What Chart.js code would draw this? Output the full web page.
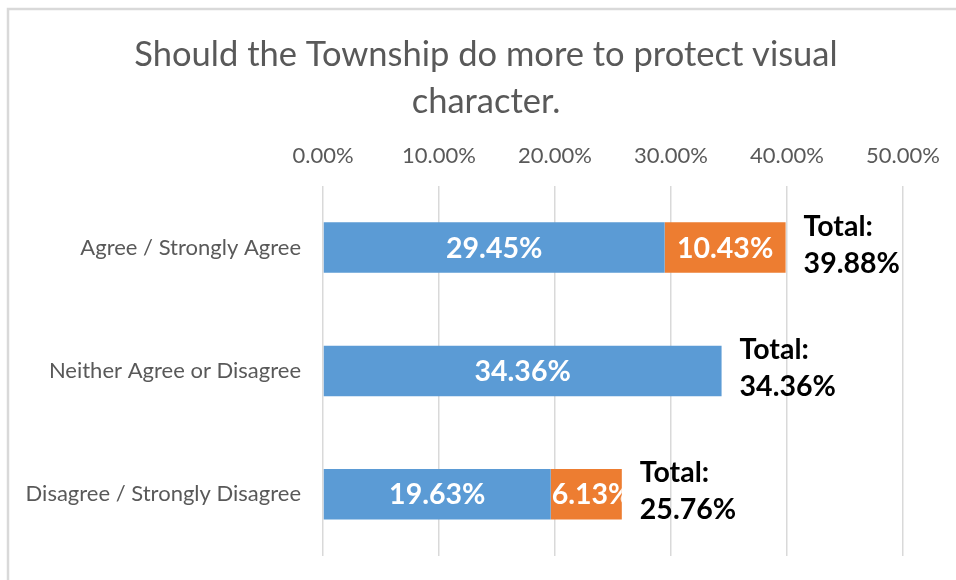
<!DOCTYPE html>
<html>
<head>
<meta charset="utf-8">
<script src="https://cdn.jsdelivr.net/npm/chart.js@4.4.1/dist/chart.umd.min.js"></script>
<style>
  html, body { margin: 0; padding: 0; background: #ffffff; }
  #wrap { position: relative; width: 956px; height: 580px; }
</style>
</head>
<body>
<div id="wrap"><canvas id="chart" width="956" height="580"></canvas></div>
<script>
// Survey answers, percent of respondents
const categories = ['Agree / Strongly Agree', 'Neither Agree or Disagree', 'Disagree / Strongly Disagree'];
const mainShare = [29.45, 34.36, 19.63];   // blue segment
const strongShare = [10.43, 0, 6.13];      // orange segment
const tickValues = [0, 10, 20, 30, 40, 50];
const chartTitle = ['Should the Township do more to protect visual', 'character.'];

const FONT = "Lato, 'Liberation Sans', 'DejaVu Sans', sans-serif";
const GREY_TEXT = '#595959';

// light frame around the chart panel
const framePlugin = {
  id: 'frame',
  beforeDraw(chart) {
    const ctx = chart.ctx;
    ctx.save();
    ctx.strokeStyle = '#d9d9d9';
    ctx.lineWidth = 2.5;
    ctx.beginPath();
    ctx.moveTo(8, chart.height + 5);
    ctx.lineTo(8, 9);
    ctx.lineTo(chart.width + 5, 9);
    ctx.stroke();
    ctx.restore();
  }
};

// value labels inside the segments and totals beside each bar
const barLabels = {
  id: 'barLabels',
  afterDatasetsDraw(chart) {
    const ctx = chart.ctx;
    ctx.save();
    ctx.font = 'bold 28.5px ' + FONT;
    ctx.textBaseline = 'middle';
    chart.data.datasets.forEach((ds, di) => {
      const meta = chart.getDatasetMeta(di);
      meta.data.forEach((bar, i) => {
        const v = ds.data[i];
        if (!v) return;
        const left = Math.min(bar.x, bar.base);
        const right = Math.max(bar.x, bar.base);
        const text = v.toFixed(2) + '%';
        const w = ctx.measureText(text).width;
        // narrow segments: keep the start of the label visible
        const cx = Math.max((left + right) / 2, left + w / 2 + 1);
        ctx.save();
        ctx.beginPath();
        ctx.rect(left, bar.y - bar.height / 2, right - left, bar.height);
        ctx.clip();
        ctx.fillStyle = '#ffffff';
        ctx.textAlign = 'center';
        ctx.fillText(text, cx, bar.y + 1);
        ctx.restore();
      });
    });
    const lastMeta = chart.getDatasetMeta(chart.data.datasets.length - 1);
    lastMeta.data.forEach((bar, i) => {
      const total = mainShare[i] + strongShare[i];
      const endX = chart.scales.x.getPixelForValue(total);
      ctx.fillStyle = '#000000';
      ctx.textAlign = 'left';
      ctx.fillText('Total:', endX + 18, bar.y - 21);
      ctx.fillText(total.toFixed(2) + '%', endX + 18, bar.y + 16);
    });
    ctx.restore();
  }
};

new Chart(document.getElementById('chart'), {
  type: 'bar',
  data: {
    labels: categories,
    datasets: [
      { label: 'Agree / Neither / Disagree', data: mainShare, backgroundColor: '#5b9bd5', borderWidth: 0,
        barPercentage: 0.41, categoryPercentage: 1 },
      { label: 'Strongly', data: strongShare, backgroundColor: '#ed7d31', borderWidth: 0,
        barPercentage: 0.41, categoryPercentage: 1 }
    ]
  },
  options: {
    indexAxis: 'y',
    responsive: false,
    animation: false,
    layout: { padding: { left: 16, right: 0, top: 0, bottom: 24 } },
    plugins: {
      legend: { display: false },
      tooltip: { enabled: false },
      title: {
        display: true,
        text: chartTitle,
        color: GREY_TEXT,
        font: { family: FONT, size: 34.5, weight: 'normal', lineHeight: 1.36 },
        padding: { top: 31, bottom: 0 }
      }
    },
    scales: {
      x: {
        position: 'top',
        stacked: true,
        min: 0,
        max: 50,
        afterBuildTicks(scale) { scale.ticks = tickValues.map(v => ({ value: v })); },
        ticks: {
          color: GREY_TEXT,
          font: { family: FONT, size: 22 },
          padding: 17,
          callback: v => Number(v).toFixed(2) + '%'
        },
        grid: { color: '#d9d9d9', lineWidth: 1.5, drawTicks: false },
        border: { display: false },
        afterFit(scale) {
          scale.height = 61;
          scale.paddingRight = 53;
        }
      },
      y: {
        stacked: true,
        ticks: {
          color: GREY_TEXT,
          font: { family: FONT, size: 22 },
          padding: 22
        },
        grid: { display: false, drawTicks: false },
        border: { display: false },
        afterFit(scale) {
          scale.width = 307;
          scale.paddingTop = 0;
          scale.paddingBottom = 0;
        }
      }
    }
  },
  plugins: [framePlugin, barLabels]
});
</script>
</body>
</html>
